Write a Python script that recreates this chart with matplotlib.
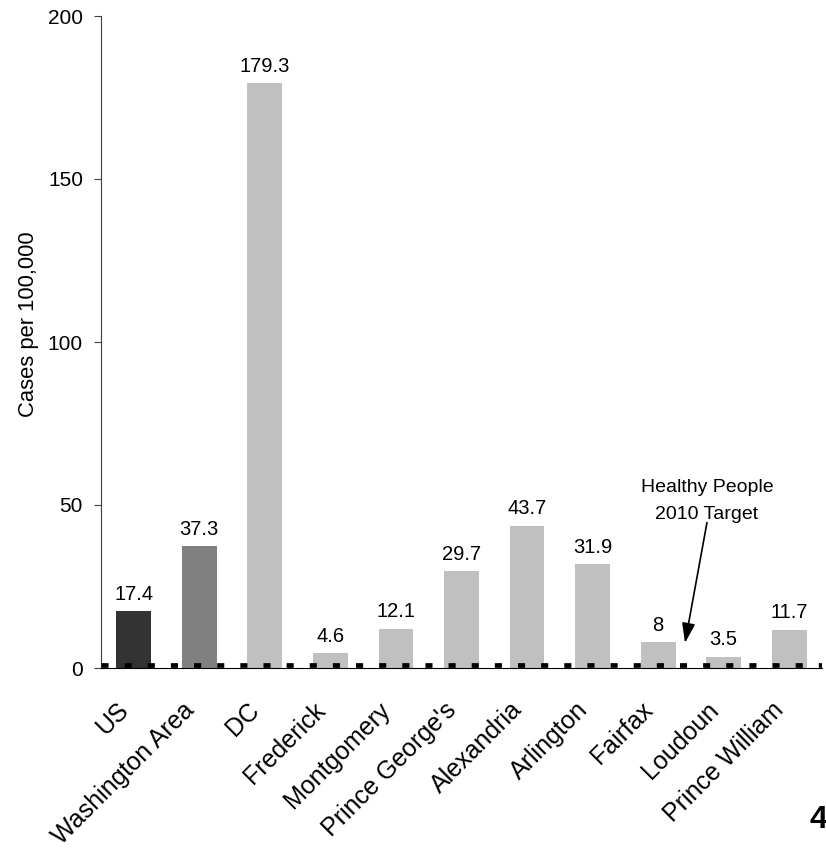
import matplotlib.pyplot as plt
from matplotlib.transforms import ScaledTranslation

areas = ["US", "Washington Area", "DC", "Frederick", "Montgomery", "Prince George's",
         "Alexandria", "Arlington", "Fairfax", "Loudoun", "Prince William"]
rates = [17.4, 37.3, 179.3, 4.6, 12.1, 29.7, 43.7, 31.9, 8, 3.5, 11.7]
bar_colors = ["#333333", "#808080"] + ["#c0c0c0"] * 9
target = 1.0  # Healthy People 2010 target
yticks = [0, 50, 100, 150, 200]

plt.rcParams['font.family'] = ['Liberation Sans', 'DejaVu Sans']

fig = plt.figure(figsize=(8.26, 8.52), dpi=100)
ax = fig.add_axes([101 / 826, 1 - 668 / 852, 721 / 826, 652 / 852])

x = range(len(areas))
ax.bar(x, rates, width=0.53, color=bar_colors, zorder=2)
for i, v in enumerate(rates):
    ax.text(i, v + 3.5, f"{v:g}", ha="center", va="baseline", fontsize=14.5)

# target line drawn as a heavy dashed rule along the baseline
ax.axhline(target, color="black", lw=3.4, dashes=(1.5, 3.4), zorder=3)

ax.set_xlim(-0.5, 10.5)
ax.set_ylim(0, 200)
ax.set_yticks(yticks)
ax.tick_params(axis="y", direction="out", length=5, labelsize=15, pad=8, color="#404040")
ax.tick_params(axis="x", length=0, labelsize=18, pad=31)
ax.set_xticks(list(x))
ax.set_xticklabels(areas, rotation=45, ha="right", va="baseline", rotation_mode="anchor")
shift = ScaledTranslation(-4 / 100, 0, fig.dpi_scale_trans)
for lbl in ax.get_xticklabels():
    lbl.set_transform(lbl.get_transform() + shift)
for s in ["top", "right"]:
    ax.spines[s].set_visible(False)
ax.spines["left"].set_color("#404040")
ax.spines["bottom"].set_color("black")

ax.text(8.745, 45.7, "Healthy People\n2010 Target", ha="center", va="baseline",
        fontsize=14, linespacing=1.75)
ax.annotate("", xy=(8.41, 7.7), xytext=(8.745, 44.6),
            arrowprops=dict(arrowstyle="-|>,head_length=0.6,head_width=0.2",
                            color="black", lw=1.2, mutation_scale=20,
                            shrinkA=0, shrinkB=0))

fig.text(29 / 826, 1 - 324 / 852, "Cases per 100,000", rotation=90,
         ha="center", va="center", fontsize=15.8)
fig.text(809 / 826, 1 - 828 / 852, "4", ha="left", va="baseline",
         fontsize=23, fontweight="bold")

fig.savefig("out.png", dpi=100)
